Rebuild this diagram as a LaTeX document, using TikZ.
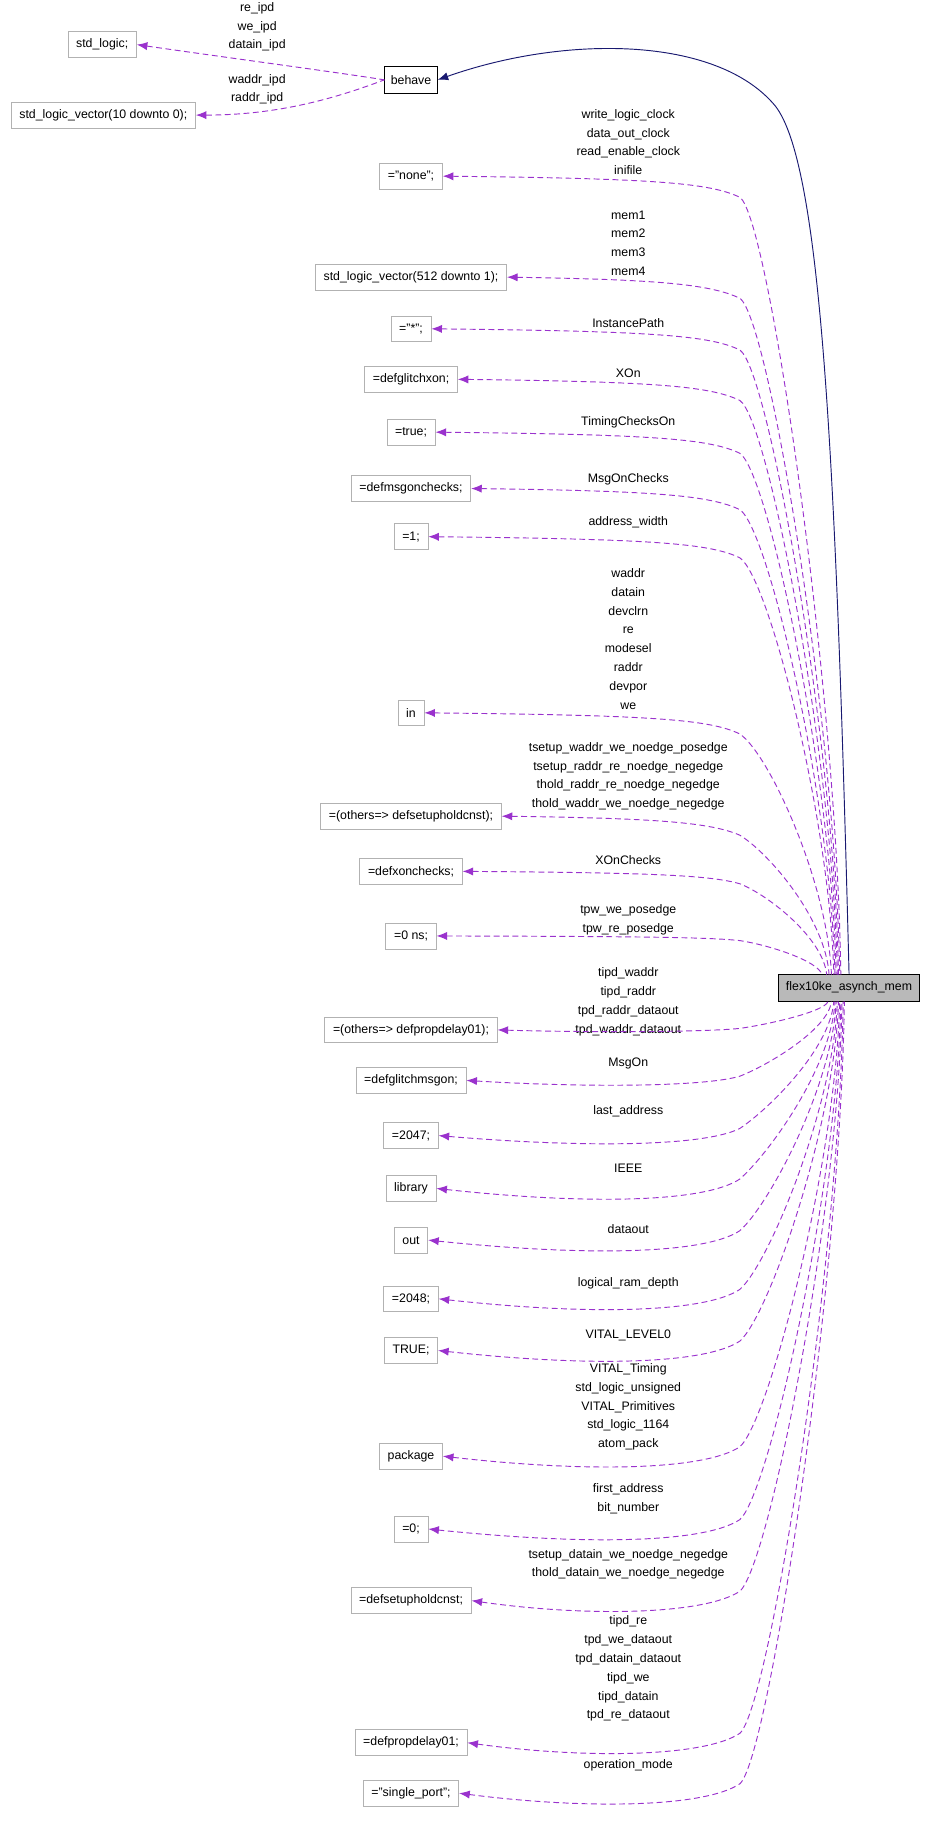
\documentclass[tikz,border=0pt]{standalone}
\usepackage{fontspec}
\setmainfont{Liberation Sans}
\usetikzlibrary{arrows.meta}
\definecolor{ep}{HTML}{9A32CD}
\definecolor{en}{HTML}{191970}
\begin{document}
\begin{tikzpicture}[x=1pt,y=-1pt,
  every node/.style={font=\fontsize{10.5}{16}\selectfont},
  val/.style={draw=gray!60,line width=0.6pt,minimum height=22pt,inner xsep=7pt,fill=white},
  lab/.style={align=center,inner sep=0pt},
  dep/.style={ep,dashed,dash pattern=on 5pt off 3pt,line width=0.8pt,{Latex[length=9pt,width=7pt]}-}]
\useasboundingbox (0,0) rectangle (793,1566);
\node[draw=black,line width=0.9pt,minimum height=23pt,inner xsep=5pt] (behave) at (350,68) {behave};
\node[draw=black,line width=0.9pt,fill=gray!55,minimum height=23pt,inner xsep=6pt] (flex) at (723,841) {flex10ke\_asynch\_mem};
\node[val] (sl) at (87,38) {std\_logic;};
\node[val] (slv) at (88,98) {std\_logic\_vector(10 downto 0);};
\draw[dep] (sl.east) .. controls (200,50) and (290,62) .. (behave.west);
\draw[dep] (slv.east) .. controls (240,98) and (290,82) .. (behave.west);
\node[lab] at (219,23) {re\_ipd\\we\_ipd\\datain\_ipd};
\node[lab] at (219,76) {waddr\_ipd\\raddr\_ipd};
\draw[en,line width=0.8pt,{Latex[length=9pt,width=7pt]}-] (behave.east) .. controls (480,30) and (610,30) .. (660,90) .. controls (700,140) and (712,400) .. (flex.north);
\foreach \i/\ny/\sx/\t/\ly/\l in {
 1/150/716/{="none";}/121/{write\_logic\_clock\\data\_out\_clock\\read\_enable\_clock\\inifile},
 2/236/715/{std\_logic\_vector(512 downto 1);}/207/{mem1\\mem2\\mem3\\mem4},
 3/280/714/{="*";}/275/{InstancePath},
 4/323/713/{=defglitchxon;}/318/{XOn},
 5/368/712/{=true;}/360/{TimingChecksOn},
 6/416/711/{=defmsgonchecks;}/408/{MsgOnChecks},
 7/457/710/{=1;}/445/{address\_width},
 8/607/708/{in}/544/{waddr\\datain\\devclrn\\re\\modesel\\raddr\\devpor\\we},
 9/695/706/{=(others=> defsetupholdcnst);}/661/{tsetup\_waddr\_we\_noedge\_posedge\\tsetup\_raddr\_re\_noedge\_negedge\\thold\_raddr\_re\_noedge\_negedge\\thold\_waddr\_we\_noedge\_negedge},
 10/742/704/{=defxonchecks;}/732/{XOnChecks},
 11/797/700/{=0 ns;}/783/{tpw\_we\_posedge\\tpw\_re\_posedge}}
{
 \pgfmathsetmacro\k{min(1,(830-\ny)/150)}
 \node[val] (v\i) at (350,\ny) {\t};
 \node[lab] at (535,\ly) {\l};
 \draw[dep] (v\i.east) .. controls (560,\ny+2*\k) and (605,\ny+6*\k) .. (630,\ny+18*\k)
   .. controls (655,\ny+35*\k) and (\sx-3,830-0.35*830+0.35*\ny) .. (\sx,830);
}
\foreach \i/\ny/\sx/\t/\ly/\l in {
 12/877/705/{=(others=> defpropdelay01);}/853/{tipd\_waddr\\tipd\_raddr\\tpd\_raddr\_dataout\\tpd\_waddr\_dataout},
 13/920/708/{=defglitchmsgon;}/906/{MsgOn},
 14/967/710/{=2047;}/946/{last\_address},
 15/1012/711/{library}/995/{IEEE},
 16/1056/712/{out}/1047/{dataout},
 17/1106/713/{=2048;}/1093/{logical\_ram\_depth},
 18/1150/714/{TRUE;}/1137/{VITAL\_LEVEL0},
 19/1240/715/{package}/1198/{VITAL\_Timing\\std\_logic\_unsigned\\VITAL\_Primitives\\std\_logic\_1164\\atom\_pack},
 20/1302/716/{=0;}/1276/{first\_address\\bit\_number},
 21/1363/717/{=defsetupholdcnst;}/1332/{tsetup\_datain\_we\_noedge\_negedge\\thold\_datain\_we\_noedge\_negedge},
 22/1484/718/{=defpropdelay01;}/1421/{tipd\_re\\tpd\_we\_dataout\\tpd\_datain\_dataout\\tipd\_we\\tipd\_datain\\tpd\_re\_dataout},
 23/1527/719/{="single\_port";}/1503/{operation\_mode}}
{
 \pgfmathsetmacro\k{min(1,(\ny-853)/150)}
 \node[val] (v\i) at (350,\ny) {\t};
 \node[lab] at (535,\ly) {\l};
 \draw[dep] (v\i.east) .. controls (500,\ny+14*\k) and (600,\ny+12*\k) .. (630,\ny-8*\k)
   .. controls (655,\ny-30*\k) and (\sx-3,853+0.35*\ny-0.35*853) .. (\sx,853);
}
\end{tikzpicture}
\end{document}
